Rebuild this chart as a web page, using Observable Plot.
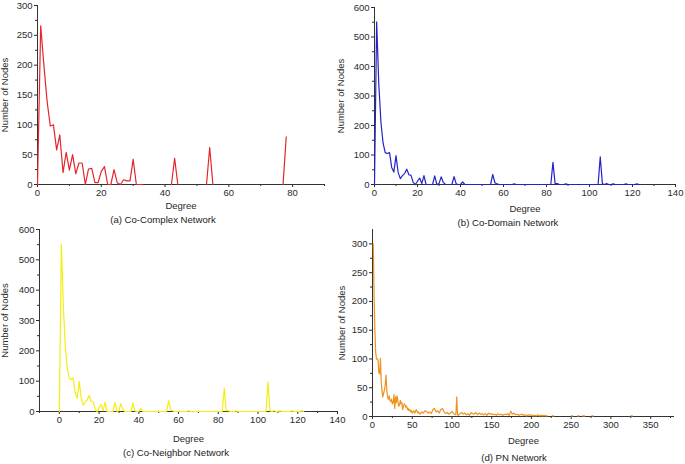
<!DOCTYPE html>
<html>
<head>
<meta charset="utf-8">
<script src="https://cdn.jsdelivr.net/npm/d3@7"></script>
<script src="https://cdn.jsdelivr.net/npm/@observablehq/plot@0.6"></script>
<style>
  html, body { margin: 0; padding: 0; background: #fff; }
  #page { position: relative; width: 685px; height: 464px; overflow: hidden; background: #fff;
          font-family: "Liberation Sans", Arial, sans-serif; color: #222; }
  .panel { position: absolute; }
  .caption { position: absolute; transform: translate(-50%, -50%); font-size: 9.6px; white-space: nowrap; }
</style>
</head>
<body>
<div id="page"></div>
<script>
// ---------- (a) Co-Complex Network ----------
const degreesA = [0,1,2,3,4,5,6,7,8,9,10,11,12,13,14,15,16,17,18,19,20,21,22,23,24,25,26,27,28,29,30,31,32,33,34,42,43,44,45,53,54,55,56,77,78];
const countsA  = [0,266,200,140,98,100,58,83,20,54,24,50,18,36,36,0,26,27,3,3,22,30,0,0,25,3,0,8,6,6,42,0,0,0,null,0,44,0,null,0,62,0,null,0,80];

// ---------- (b) Co-Domain Network ----------
const degreesB = [0,1,2,3,4,5,6,7,8,9,10,11,12,13,14,15,16,17,18,19,20,21,22,23,24,25,26,27,28,29,30,31,32,33,34,35,36,37,38,39,40,41,42,45,50,54,55,56,57,58,64,65,66,82,83,84,85,86,88,89,90,104,105,106,107,108,109,110,111,112,116,117,118,121,122,123];
const countsB  = [0,551,340,210,140,108,105,108,58,42,98,41,20,30,37,52,33,31,7,0,11,22,3,30,0,0,0,0,29,0,3,26,7,0,0,0,0,27,2,0,0,9,0,0,0,0,34,6,2,0,0,2,0,0,75,3,3,0,0,2,0,0,94,2,0,3,0,0,2,0,0,2,0,0,2,0];

// ---------- (c) Co-Neighbor Network ----------
const degreesC = [0,1,2,3,4,5,6,7,8,9,10,11,12,13,14,15,16,17,18,19,20,21,22,23,24,25,26,27,28,29,30,31,32,33,34,35,36,37,38,39,40,41,42,45,50,54,55,56,57,58,64,65,66,82,83,84,85,86,88,89,90,104,105,106,107,108,109,110,111,112,116,117,118,121,122,123];
const countsC  = [0,553,345,212,142,110,106,110,60,44,99,42,21,31,38,53,34,32,8,0,12,23,3,31,0,0,0,0,30,0,3,26,7,0,0,0,0,28,2,0,0,10,0,0,0,0,36,7,2,0,0,2,0,0,77,3,3,0,0,2,0,0,97,2,0,3,0,0,2,0,0,2,0,0,2,0];

// ---------- (d) PN Network ----------
const degreesD = [1,2,3,4,5,6,7,8,9,10,11,12,13,14,15,16,17,18,19,20,21,22,23,24,25,26,27,28,29,30,31,32,33,34,35,36,37,38,39,40,41,42,43,44,45,46,47,48,49,50,51,52,53,54,55,56,57,58,59,60,
  62,64,66,68,70,72,74,76,78,80,82,84,86,88,90,92,94,96,98,100,102,104,105,106,107,108,110,112,114,116,118,120,122,124,126,128,130,132,134,136,138,140,142,144,146,148,150,
  152,154,156,158,160,162,164,166,168,170,172,174,176,178,180,182,184,186,188,190,192,194,196,198,200,202,204,206,208,210,212,214,216,218,220,221,
  226,228,229,250,252,253,258,260,261,264,267,268,276,278,279,325,327];
const countsD  = [300,210,150,112,100,100,98,76,74,101,60,44,34,40,46,55,72,45,34,30,36,28,26,30,22,24,38,14,34,24,36,26,18,20,28,22,24,12,18,22,20,16,18,12,14,10,12,8,10,6,8,10,6,8,12,9,6,8,5,4,
  8,6,10,9,6,8,5,12,14,8,10,6,12,14,8,5,7,4,6,9,5,3,5,34,3,2,5,7,4,6,3,5,2,7,5,4,7,3,6,4,5,3,5,2,6,4,5,
  3,4,2,5,3,4,2,4,3,5,2,9,4,6,3,4,2,3,4,2,3,1,3,2,3,1,2,1,3,1,2,1,2,1,1,null,
  1,1,null,1,1,null,1,1,null,1,1,null,1,1,null,1,1];

// ---------- tick labels ----------
const xTicksA = [0,20,40,60,80];
const yTicksA = [0,50,100,150,200,250,300];
const xTicksB = [0,20,40,60,80,100,120,140];
const yTicksB = [0,100,200,300,400,500,600];
const xTicksC = [0,20,40,60,80,100,120,140];
const yTicksC = [0,100,200,300,400,500,600];
const xTicksD = [0,50,100,150,200,250,300,350];
const yTicksD = [0,50,100,150,200,250,300];

const captions = ["(a) Co-Complex Network","(b) Co-Domain Network","(c) Co-Neighbor Network","(d) PN Network"];

function rows(ds, cs) { return ds.map((d, i) => ({degree: d, count: cs[i]})); }
function minorOf(major) {
  const out = [];
  for (let i = 0; i < major.length - 1; i++) out.push((major[i] + major[i+1]) / 2);
  return out;
}

function panel(cfg) {
  const xMinor = cfg.xMinor ?? minorOf(cfg.xTicks);
  const yMinor = minorOf(cfg.yTicks);
  const chart = Plot.plot({
    width: cfg.width, height: cfg.height,
    marginLeft: cfg.ml, marginRight: cfg.mr, marginTop: cfg.mt, marginBottom: cfg.mb,
    style: "background: transparent; overflow: visible; max-width: none; font-family: 'Liberation Sans', Arial, sans-serif; font-size: 9.5px; color: #2a2a2a;",
    x: {domain: cfg.xDomain},
    y: {domain: cfg.yDomain},
    marks: [
      Plot.axisX({ticks: cfg.xTicks, tickSize: 3, tickPadding: 2, label: "Degree", labelAnchor: "center", labelOffset: cfg.xLabelOffset, labelArrow: "none"}),
      Plot.axisX({ticks: xMinor, tickSize: 2, tickFormat: () => "", label: null}),
      Plot.axisY({ticks: cfg.yTicks, tickSize: 3, tickPadding: 2, label: "Number of Nodes", labelAnchor: "center", labelOffset: cfg.yLabelOffset, labelArrow: "none"}),
      Plot.axisY({ticks: yMinor, tickSize: 2, tickFormat: () => "", label: null}),
      Plot.ruleY([cfg.yDomain[0]], {stroke: "#333"}),
      Plot.ruleX([cfg.xDomain[0]], {stroke: "#333"}),
      Plot.line(rows(cfg.degrees, cfg.counts), {x: "degree", y: "count", stroke: cfg.color, strokeWidth: 1.2})
    ]
  });
  const wrap = document.createElement("div");
  wrap.className = "panel";
  wrap.style.left = cfg.left + "px";
  wrap.style.top = cfg.top + "px";
  wrap.appendChild(chart);
  document.getElementById("page").appendChild(wrap);
  const cap = document.createElement("div");
  cap.className = "caption";
  cap.textContent = cfg.caption;
  cap.style.left = cfg.capX + "px";
  cap.style.top = cfg.capY + "px";
  document.getElementById("page").appendChild(cap);
}

panel({left: 0, top: 0, width: 330, height: 212, ml: 37, mr: 6, mt: 5, mb: 28,
  xDomain: [0, 90], yDomain: [0, 300], xTicks: xTicksA, xMinor: [10,30,50,70,90], yTicks: yTicksA,
  degrees: degreesA, counts: countsA, color: "#e3262a",
  xLabelOffset: 24, yLabelOffset: 36, caption: captions[0], capX: 163, capY: 219});

panel({left: 330, top: 0, width: 355, height: 212, ml: 44, mr: 10, mt: 7, mb: 28,
  xDomain: [0, 140], yDomain: [0, 600], xTicks: xTicksB, yTicks: yTicksB,
  degrees: degreesB, counts: countsB, color: "#2323c8",
  xLabelOffset: 27, yLabelOffset: 37, caption: captions[1], capX: 508, capY: 222});

panel({left: 0, top: 225, width: 340, height: 214, ml: 39, mr: 3, mt: 4, mb: 28,
  xDomain: [-10, 140], yDomain: [0, 600], xTicks: xTicksC, xMinor: [-10,10,30,50,70,90,110,130], yTicks: yTicksC,
  degrees: degreesC, counts: countsC, color: "#f4ee12",
  xLabelOffset: 30, yLabelOffset: 38, caption: captions[2], capX: 176, capY: 452});

panel({left: 330, top: 225, width: 355, height: 219, ml: 42, mr: 11, mt: 4, mb: 28,
  xDomain: [0, 380], yDomain: [0, 325], xTicks: xTicksD, xMinor: [25,75,125,175,225,275,325,375], yTicks: yTicksD,
  degrees: degreesD, counts: countsD, color: "#f0921e",
  xLabelOffset: 27, yLabelOffset: 34, caption: captions[3], capX: 514, capY: 457});
</script>
</body>
</html>
